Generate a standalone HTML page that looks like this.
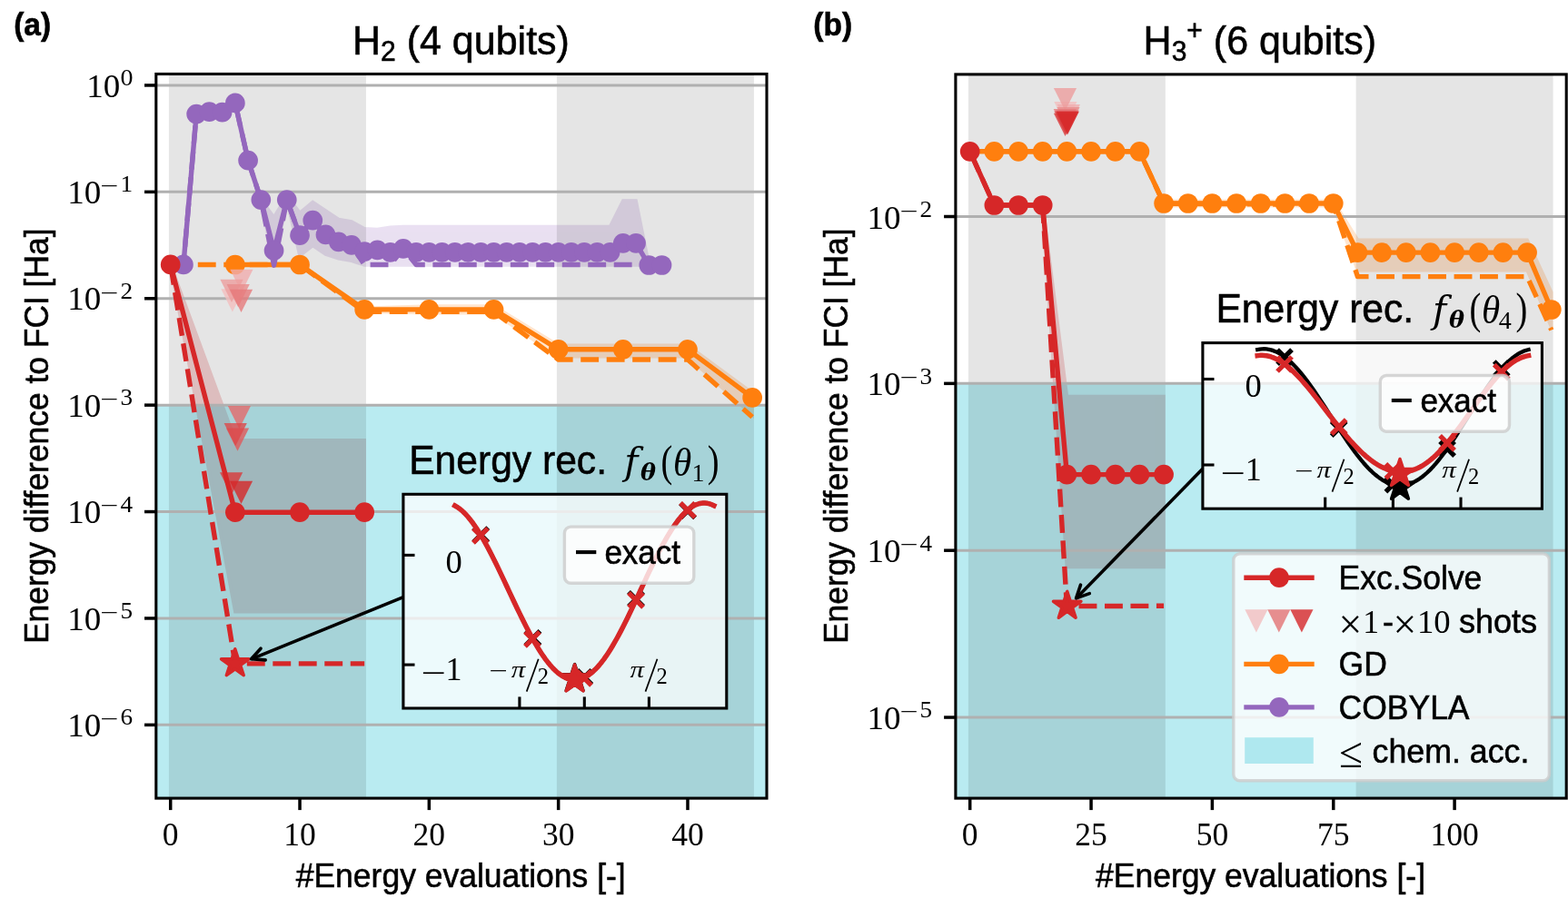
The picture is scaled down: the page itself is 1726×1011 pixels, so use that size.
<!DOCTYPE html>
<html lang="en"><head><meta charset="utf-8"><title>Energy difference to FCI</title>
<style>html,body{margin:0;padding:0;background:#fff;width:1726px;height:1011px}svg{display:block}text{fill:#000;white-space:pre}.s{stroke:#000;stroke-width:0.55px;paint-order:stroke}</style></head><body>
<svg width="1726" height="1011" viewBox="0 0 1726 1011">
<rect x="0" y="0" width="1726" height="1011" fill="#fff"/>
<defs><clipPath id="ca"><rect x="171.8" y="81.5" width="672.2" height="797.6"/></clipPath>
<clipPath id="cb"><rect x="1051.9" y="81.9" width="672.3" height="797.2"/></clipPath></defs>
<g clip-path="url(#ca)">
<polygon points="287.32,219.8 301.56,239.2 315.79,215.7 330.02,234.4 344.25,222.6 358.48,232 372.72,241.5 386.95,243.9 401.18,251.8 415.41,252.6 429.64,250.2 443.88,249.5 458.11,249.5 472.34,249.5 486.57,249.5 500.8,249.5 515.04,249.5 529.27,249.5 543.5,249.5 557.73,249.5 571.96,249.5 586.2,249.5 600.43,249.5 614.66,249.5 628.89,249.5 643.12,249.5 657.36,249.5 671.59,249.5 685.82,221 700.05,221 714.28,291.8 714.28,292.2 700.05,291.9 685.82,291.9 671.59,291.9 657.36,291.9 643.12,291.9 628.89,291.9 614.66,291.9 600.43,291.9 586.2,291.9 571.96,291.9 557.73,291.9 543.5,291.9 529.27,291.9 515.04,291.9 500.8,291.9 486.57,291.9 472.34,291.9 458.11,291.9 443.88,291.9 429.64,291.9 415.41,291.9 401.18,291.9 386.95,287.2 372.72,284.8 358.48,280.1 344.25,270.6 330.02,281.7 315.79,220.3 301.56,291.9 287.32,220.2" fill="#9467bd" stroke="#9467bd" stroke-width="3.6" stroke-linejoin="miter" opacity="0.2"/>
<polygon points="258.86,291.3 330.02,291.3 401.18,339.2 472.34,337.1 543.5,337.1 614.66,380.2 685.82,380.2 756.98,380.2 828.14,432.7 828.14,457.3 756.98,392.8 685.82,392.8 614.66,392.8 543.5,344.8 472.34,344.8 401.18,343.3 330.02,291.7 258.86,291.7" fill="#ff7f0e" stroke="#ff7f0e" stroke-width="3.6" stroke-linejoin="miter" opacity="0.2"/>
<polygon points="187.7,291.4 258.86,484.7 401.18,484.7 401.18,673.6 258.86,673.6" fill="#d62728" stroke="#d62728" stroke-width="3.6" stroke-linejoin="miter" opacity="0.2"/>
<rect x="171.8" y="446.15" width="672.2" height="432.95" fill="#17becf" fill-opacity="0.3"/>
<rect x="185.9" y="81.5" width="217.08" height="797.6" fill="#000" fill-opacity="0.1"/>
<rect x="612.86" y="81.5" width="217.08" height="797.6" fill="#000" fill-opacity="0.1"/>
<line x1="171.8" y1="93.95" x2="844" y2="93.95" stroke="#b0b0b0" stroke-width="3"/>
<line x1="171.8" y1="211.35" x2="844" y2="211.35" stroke="#b0b0b0" stroke-width="3"/>
<line x1="171.8" y1="328.75" x2="844" y2="328.75" stroke="#b0b0b0" stroke-width="3"/>
<line x1="171.8" y1="446.15" x2="844" y2="446.15" stroke="#b0b0b0" stroke-width="3"/>
<line x1="171.8" y1="563.55" x2="844" y2="563.55" stroke="#b0b0b0" stroke-width="3"/>
<line x1="171.8" y1="680.95" x2="844" y2="680.95" stroke="#b0b0b0" stroke-width="3"/>
<line x1="171.8" y1="798.35" x2="844" y2="798.35" stroke="#b0b0b0" stroke-width="3"/>
<polyline points="187.7,291.4 258.86,291.5 330.02,291.5 401.18,343.3 472.34,343.3 543.5,343.3 614.66,396 685.82,396 756.98,396 828.14,459.2" fill="none" stroke="#ff7f0e" stroke-width="5.4" stroke-dasharray="19.9 8.58" stroke-linejoin="round" stroke-dashoffset="-1.6"/>
<polyline points="258.86,291.5 330.02,291.5 401.18,340.9 472.34,340.9 543.5,340.9 614.66,384.8 685.82,384.8 756.98,384.8 828.14,437.9" fill="none" stroke="#ff7f0e" stroke-width="5.4" stroke-linejoin="round" />
<circle cx="258.86" cy="291.5" r="10.85" fill="#ff7f0e"/>
<circle cx="330.02" cy="291.5" r="10.85" fill="#ff7f0e"/>
<circle cx="401.18" cy="340.9" r="10.85" fill="#ff7f0e"/>
<circle cx="472.34" cy="340.9" r="10.85" fill="#ff7f0e"/>
<circle cx="543.5" cy="340.9" r="10.85" fill="#ff7f0e"/>
<circle cx="614.66" cy="384.8" r="10.85" fill="#ff7f0e"/>
<circle cx="685.82" cy="384.8" r="10.85" fill="#ff7f0e"/>
<circle cx="756.98" cy="384.8" r="10.85" fill="#ff7f0e"/>
<circle cx="828.14" cy="437.9" r="10.85" fill="#ff7f0e"/>
<polyline points="187.7,291.4 201.93,291.4 216.16,125.6 230.4,123.2 244.63,123.7 258.86,113.4 273.09,176.7 287.32,220.1 301.56,292.2 315.79,220.1 330.02,259.1 344.25,242.7 358.48,258.4 372.72,266.3 386.95,269.9 401.18,291.5 415.41,291.5 429.64,291.5 443.88,274 458.11,291.5 472.34,291.5 486.57,291.5 500.8,291.5 515.04,291.5 529.27,291.5 543.5,291.5 557.73,291.5 571.96,291.5 586.2,291.5 600.43,291.5 614.66,291.5 628.89,291.5 643.12,291.5 657.36,291.5 671.59,291.5 685.82,291.5 700.05,291.5 714.28,292 728.52,292" fill="none" stroke="#9467bd" stroke-width="5.4" stroke-dasharray="19.9 8.58" stroke-linejoin="round" stroke-dashoffset="-5.5"/>
<polyline points="201.93,291.4 216.16,125.6 230.4,123.2 244.63,123.7 258.86,113.4 273.09,176.7 287.32,220.1 301.56,275.9 315.79,220.1 330.02,259.1 344.25,242.7 358.48,258.4 372.72,266.3 386.95,269.9 401.18,277 415.41,275.4 429.64,277.8 443.88,273.9 458.11,277.8 472.34,277.8 486.57,277.8 500.8,277.8 515.04,277.8 529.27,277.8 543.5,277.8 557.73,277.8 571.96,277.8 586.2,277.8 600.43,277.8 614.66,277.8 628.89,277.8 643.12,277.8 657.36,277.8 671.59,277.8 685.82,267.8 700.05,267.8 714.28,292 728.52,292" fill="none" stroke="#9467bd" stroke-width="5.4" stroke-linejoin="round" />
<circle cx="201.93" cy="291.4" r="10.85" fill="#9467bd"/>
<circle cx="216.16" cy="125.6" r="10.85" fill="#9467bd"/>
<circle cx="230.4" cy="123.2" r="10.85" fill="#9467bd"/>
<circle cx="244.63" cy="123.7" r="10.85" fill="#9467bd"/>
<circle cx="258.86" cy="113.4" r="10.85" fill="#9467bd"/>
<circle cx="273.09" cy="176.7" r="10.85" fill="#9467bd"/>
<circle cx="287.32" cy="220.1" r="10.85" fill="#9467bd"/>
<circle cx="301.56" cy="275.9" r="10.85" fill="#9467bd"/>
<circle cx="315.79" cy="220.1" r="10.85" fill="#9467bd"/>
<circle cx="330.02" cy="259.1" r="10.85" fill="#9467bd"/>
<circle cx="344.25" cy="242.7" r="10.85" fill="#9467bd"/>
<circle cx="358.48" cy="258.4" r="10.85" fill="#9467bd"/>
<circle cx="372.72" cy="266.3" r="10.85" fill="#9467bd"/>
<circle cx="386.95" cy="269.9" r="10.85" fill="#9467bd"/>
<circle cx="401.18" cy="277" r="10.85" fill="#9467bd"/>
<circle cx="415.41" cy="275.4" r="10.85" fill="#9467bd"/>
<circle cx="429.64" cy="277.8" r="10.85" fill="#9467bd"/>
<circle cx="443.88" cy="273.9" r="10.85" fill="#9467bd"/>
<circle cx="458.11" cy="277.8" r="10.85" fill="#9467bd"/>
<circle cx="472.34" cy="277.8" r="10.85" fill="#9467bd"/>
<circle cx="486.57" cy="277.8" r="10.85" fill="#9467bd"/>
<circle cx="500.8" cy="277.8" r="10.85" fill="#9467bd"/>
<circle cx="515.04" cy="277.8" r="10.85" fill="#9467bd"/>
<circle cx="529.27" cy="277.8" r="10.85" fill="#9467bd"/>
<circle cx="543.5" cy="277.8" r="10.85" fill="#9467bd"/>
<circle cx="557.73" cy="277.8" r="10.85" fill="#9467bd"/>
<circle cx="571.96" cy="277.8" r="10.85" fill="#9467bd"/>
<circle cx="586.2" cy="277.8" r="10.85" fill="#9467bd"/>
<circle cx="600.43" cy="277.8" r="10.85" fill="#9467bd"/>
<circle cx="614.66" cy="277.8" r="10.85" fill="#9467bd"/>
<circle cx="628.89" cy="277.8" r="10.85" fill="#9467bd"/>
<circle cx="643.12" cy="277.8" r="10.85" fill="#9467bd"/>
<circle cx="657.36" cy="277.8" r="10.85" fill="#9467bd"/>
<circle cx="671.59" cy="277.8" r="10.85" fill="#9467bd"/>
<circle cx="685.82" cy="267.8" r="10.85" fill="#9467bd"/>
<circle cx="700.05" cy="267.8" r="10.85" fill="#9467bd"/>
<circle cx="714.28" cy="292" r="10.85" fill="#9467bd"/>
<circle cx="728.52" cy="292" r="10.85" fill="#9467bd"/>
<polygon points="243.3,318.2 268.5,318.2 255.9,343.4" fill="#f3bebe" fill-opacity="0.8"/>
<polygon points="253.3,296.7 278.5,296.7 265.9,321.9" fill="#f0adae" fill-opacity="0.8"/>
<polygon points="242.4,307.7 267.6,307.7 255,332.9" fill="#ec9d9d" fill-opacity="0.8"/>
<polygon points="249.6,313.1 274.8,313.1 262.2,338.3" fill="#e98c8c" fill-opacity="0.8"/>
<polygon points="252.9,318.8 278.1,318.8 265.5,344" fill="#e67b7c" fill-opacity="0.8"/>
<polygon points="250.8,447.1 276,447.1 263.4,472.3" fill="#e36a6b" fill-opacity="0.8"/>
<polygon points="248.9,471.5 274.1,471.5 261.5,496.7" fill="#e0595a" fill-opacity="0.8"/>
<polygon points="246.6,466 271.8,466 259.2,491.2" fill="#dc494a" fill-opacity="0.8"/>
<polygon points="242,520.2 267.2,520.2 254.6,545.4" fill="#d93839" fill-opacity="0.8"/>
<polygon points="252.9,529.7 278.1,529.7 265.5,554.9" fill="#d62728" fill-opacity="0.8"/>
<polyline points="187.7,291.4 258.86,730.9 401.18,730.9" fill="none" stroke="#d62728" stroke-width="5.4" stroke-dasharray="19.9 8.58" stroke-linejoin="round" stroke-dashoffset="-2.5"/>
<polyline points="187.7,291.4 258.86,564.2 330.02,564.2 401.18,564.2" fill="none" stroke="#d62728" stroke-width="5.4" stroke-linejoin="round" />
<circle cx="187.7" cy="291.4" r="10.85" fill="#d62728"/>
<circle cx="258.86" cy="564.2" r="10.85" fill="#d62728"/>
<circle cx="330.02" cy="564.2" r="10.85" fill="#d62728"/>
<circle cx="401.18" cy="564.2" r="10.85" fill="#d62728"/>
<polygon points="258.76,714.7 255.17,725.76 243.54,725.76 252.95,732.59 249.36,743.64 258.76,736.81 268.16,743.64 264.57,732.59 273.98,725.76 262.35,725.76" fill="#d62728" stroke="#d62728" stroke-width="3.5" stroke-linejoin="round"/>
</g>
<line x1="159" y1="93.95" x2="171.8" y2="93.95" stroke="#000" stroke-width="3.5"/>
<line x1="159" y1="211.35" x2="171.8" y2="211.35" stroke="#000" stroke-width="3.5"/>
<line x1="159" y1="328.75" x2="171.8" y2="328.75" stroke="#000" stroke-width="3.5"/>
<line x1="159" y1="446.15" x2="171.8" y2="446.15" stroke="#000" stroke-width="3.5"/>
<line x1="159" y1="563.55" x2="171.8" y2="563.55" stroke="#000" stroke-width="3.5"/>
<line x1="159" y1="680.95" x2="171.8" y2="680.95" stroke="#000" stroke-width="3.5"/>
<line x1="159" y1="798.35" x2="171.8" y2="798.35" stroke="#000" stroke-width="3.5"/>
<line x1="187.7" y1="879.1" x2="187.7" y2="892.1" stroke="#000" stroke-width="3.5"/>
<text x="187.7" y="931.4" font-family='"Liberation Serif", serif' font-size="35.5" text-anchor="middle" >0</text>
<line x1="330.02" y1="879.1" x2="330.02" y2="892.1" stroke="#000" stroke-width="3.5"/>
<text x="330.02" y="931.4" font-family='"Liberation Serif", serif' font-size="35.5" text-anchor="middle" >10</text>
<line x1="472.34" y1="879.1" x2="472.34" y2="892.1" stroke="#000" stroke-width="3.5"/>
<text x="472.34" y="931.4" font-family='"Liberation Serif", serif' font-size="35.5" text-anchor="middle" >20</text>
<line x1="614.66" y1="879.1" x2="614.66" y2="892.1" stroke="#000" stroke-width="3.5"/>
<text x="614.66" y="931.4" font-family='"Liberation Serif", serif' font-size="35.5" text-anchor="middle" >30</text>
<line x1="756.98" y1="879.1" x2="756.98" y2="892.1" stroke="#000" stroke-width="3.5"/>
<text x="756.98" y="931.4" font-family='"Liberation Serif", serif' font-size="35.5" text-anchor="middle" >40</text>
<rect x="171.8" y="81.5" width="672.2" height="797.6" fill="none" stroke="#000" stroke-width="3.1"/>
<text x="132.4" y="93.95" font-family='"Liberation Serif", serif' font-size="24.5" textLength="14" lengthAdjust="spacingAndGlyphs">0</text>
<text x="132.3" y="106.65" font-family='"Liberation Serif", serif' font-size="35.5" text-anchor="end" textLength="37" lengthAdjust="spacingAndGlyphs">10</text>
<text x="110.6" y="213.15" font-family='"Liberation Serif", serif' font-size="24.5" textLength="20" lengthAdjust="spacingAndGlyphs">−</text>
<text x="146" y="211.35" font-family='"Liberation Serif", serif' font-size="24.5" text-anchor="end" textLength="13.6" lengthAdjust="spacingAndGlyphs">1</text>
<text x="111.3" y="224.05" font-family='"Liberation Serif", serif' font-size="35.5" text-anchor="end" textLength="37" lengthAdjust="spacingAndGlyphs">10</text>
<text x="110.6" y="330.55" font-family='"Liberation Serif", serif' font-size="24.5" textLength="20" lengthAdjust="spacingAndGlyphs">−</text>
<text x="146" y="328.75" font-family='"Liberation Serif", serif' font-size="24.5" text-anchor="end" textLength="13.6" lengthAdjust="spacingAndGlyphs">2</text>
<text x="111.3" y="341.45" font-family='"Liberation Serif", serif' font-size="35.5" text-anchor="end" textLength="37" lengthAdjust="spacingAndGlyphs">10</text>
<text x="110.6" y="447.95" font-family='"Liberation Serif", serif' font-size="24.5" textLength="20" lengthAdjust="spacingAndGlyphs">−</text>
<text x="146" y="446.15" font-family='"Liberation Serif", serif' font-size="24.5" text-anchor="end" textLength="13.6" lengthAdjust="spacingAndGlyphs">3</text>
<text x="111.3" y="458.85" font-family='"Liberation Serif", serif' font-size="35.5" text-anchor="end" textLength="37" lengthAdjust="spacingAndGlyphs">10</text>
<text x="110.6" y="565.35" font-family='"Liberation Serif", serif' font-size="24.5" textLength="20" lengthAdjust="spacingAndGlyphs">−</text>
<text x="146" y="563.55" font-family='"Liberation Serif", serif' font-size="24.5" text-anchor="end" textLength="13.6" lengthAdjust="spacingAndGlyphs">4</text>
<text x="111.3" y="576.25" font-family='"Liberation Serif", serif' font-size="35.5" text-anchor="end" textLength="37" lengthAdjust="spacingAndGlyphs">10</text>
<text x="110.6" y="682.75" font-family='"Liberation Serif", serif' font-size="24.5" textLength="20" lengthAdjust="spacingAndGlyphs">−</text>
<text x="146" y="680.95" font-family='"Liberation Serif", serif' font-size="24.5" text-anchor="end" textLength="13.6" lengthAdjust="spacingAndGlyphs">5</text>
<text x="111.3" y="693.65" font-family='"Liberation Serif", serif' font-size="35.5" text-anchor="end" textLength="37" lengthAdjust="spacingAndGlyphs">10</text>
<text x="110.6" y="800.15" font-family='"Liberation Serif", serif' font-size="24.5" textLength="20" lengthAdjust="spacingAndGlyphs">−</text>
<text x="146" y="798.35" font-family='"Liberation Serif", serif' font-size="24.5" text-anchor="end" textLength="13.6" lengthAdjust="spacingAndGlyphs">6</text>
<text x="111.3" y="811.05" font-family='"Liberation Serif", serif' font-size="35.5" text-anchor="end" textLength="37" lengthAdjust="spacingAndGlyphs">10</text>
<text class="s" transform="translate(507.2 977.3) scale(1 1.045)" font-family='"Liberation Sans", sans-serif' font-size="35.5" text-anchor="middle" >#Energy evaluations [-]</text>
<text class="s" transform="translate(52.7 480.3) rotate(-90) scale(1 1.045)" font-family='"Liberation Sans", sans-serif' font-size="35.4" text-anchor="middle">Energy difference to FCI [Ha]</text>
<text class="s" transform="translate(388 59.8) scale(1 1.05)" font-family='"Liberation Sans", sans-serif' font-size="43">H<tspan font-size="30" dy="7">2</tspan><tspan dy="-7"> (4 qubits)</tspan></text>
<text class="s" transform="translate(15.2 39) scale(1 1.04)" font-family='"Liberation Sans", sans-serif' font-size="33.5" font-weight="bold">(a)</text>
<path d="M443.9 657.7L276.6 725.8" stroke="#000" stroke-width="3.6" fill="none"/>
<path d="M287.01 714.18L276.6 725.8L292.16 726.85" stroke="#000" stroke-width="3.6" fill="none" stroke-linecap="round" stroke-linejoin="round"/>
<rect x="443.9" y="544.3" width="355.9" height="235.7" fill="#fff" fill-opacity="0.74"/>
<polyline points="500.7,556.89 503.08,558.27 505.45,559.92 507.83,561.83 510.21,563.98 512.58,566.38 514.96,569.02 517.34,571.89 519.71,574.98 522.09,578.28 524.47,581.78 526.84,585.47 529.22,589.34 531.6,593.39 533.97,597.59 536.35,601.93 538.73,606.41 541.1,611.02 543.48,615.72 545.86,620.53 548.23,625.41 550.61,630.36 552.99,635.37 555.36,640.41 557.74,645.48 560.12,650.56 562.49,655.64 564.87,660.71 567.25,665.74 569.62,670.74 572,675.67 574.38,680.54 576.75,685.32 579.13,690.01 581.51,694.6 583.88,699.06 586.26,703.39 588.64,707.58 591.01,711.62 593.39,715.49 595.77,719.2 598.14,722.71 600.52,726.04 602.9,729.17 605.27,732.08 607.65,734.79 610.03,737.26 612.4,739.52 614.78,741.53 617.16,743.31 619.53,744.84 621.91,746.12 624.29,747.15 626.66,747.93 629.04,748.45 631.42,748.72 633.79,748.72 636.17,748.47 638.55,747.95 640.92,747.18 643.3,746.16 645.68,744.88 648.05,743.35 650.43,741.57 652.81,739.56 655.18,737.3 657.56,734.82 659.94,732.11 662.31,729.18 664.69,726.04 667.07,722.7 669.44,719.16 671.82,715.43 674.2,711.53 676.57,707.47 678.95,703.25 681.33,698.88 683.7,694.39 686.08,689.77 688.46,685.04 690.83,680.22 693.21,675.31 695.59,670.34 697.96,665.3 700.34,660.23 702.72,655.13 705.09,650.01 707.47,644.89 709.85,639.79 712.22,634.71 714.6,629.68 716.98,624.71 719.35,619.8 721.73,614.98 724.11,610.26 726.48,605.65 728.86,601.16 731.24,596.82 733.61,592.62 735.99,588.59 738.37,584.73 740.74,581.06 743.12,577.58 745.5,574.31 747.87,571.26 750.25,568.43 752.63,565.83 755,563.48 757.38,561.37 759.76,559.52 762.13,557.93 764.51,556.6 766.89,555.54 769.26,554.75 771.64,554.23 774.02,553.99 776.39,554.02 778.77,554.33 781.15,554.91 783.52,555.76 785.9,556.89" fill="none" stroke="#000" stroke-width="4.3" stroke-linejoin="round" stroke-linecap="square"/>
<path d="M521.22 581.14L537.22 597.14M521.22 597.14L537.22 581.14" stroke="#000" stroke-width="5.3" fill="none"/>
<path d="M578.46 694.99L594.46 710.99M578.46 710.99L594.46 694.99" stroke="#000" stroke-width="5.3" fill="none"/>
<path d="M635.3 737.96L651.3 753.96M635.3 753.96L651.3 737.96" stroke="#000" stroke-width="5.3" fill="none"/>
<path d="M692.04 651.93L708.04 667.93M692.04 667.93L708.04 651.93" stroke="#000" stroke-width="5.3" fill="none"/>
<path d="M749.08 554.37L765.08 570.37M749.08 570.37L765.08 554.37" stroke="#000" stroke-width="5.3" fill="none"/>
<polygon points="632.6,731.6 629.01,742.66 617.38,742.66 626.79,749.49 623.2,760.54 632.6,753.71 642,760.54 638.41,749.49 647.82,742.66 636.19,742.66" fill="#000" stroke="#000" stroke-width="3.5" stroke-linejoin="round"/>
<polyline points="500.7,556.89 503.08,558.27 505.45,559.92 507.83,561.83 510.21,563.98 512.58,566.38 514.96,569.02 517.34,571.89 519.71,574.98 522.09,578.28 524.47,581.78 526.84,585.47 529.22,589.34 531.6,593.39 533.97,597.59 536.35,601.93 538.73,606.41 541.1,611.02 543.48,615.72 545.86,620.53 548.23,625.41 550.61,630.36 552.99,635.37 555.36,640.41 557.74,645.48 560.12,650.56 562.49,655.64 564.87,660.71 567.25,665.74 569.62,670.74 572,675.67 574.38,680.54 576.75,685.32 579.13,690.01 581.51,694.6 583.88,699.06 586.26,703.39 588.64,707.58 591.01,711.62 593.39,715.49 595.77,719.2 598.14,722.71 600.52,726.04 602.9,729.17 605.27,732.08 607.65,734.79 610.03,737.26 612.4,739.52 614.78,741.53 617.16,743.31 619.53,744.84 621.91,746.12 624.29,747.15 626.66,747.93 629.04,748.45 631.42,748.72 633.79,748.72 636.17,748.47 638.55,747.95 640.92,747.18 643.3,746.16 645.68,744.88 648.05,743.35 650.43,741.57 652.81,739.56 655.18,737.3 657.56,734.82 659.94,732.11 662.31,729.18 664.69,726.04 667.07,722.7 669.44,719.16 671.82,715.43 674.2,711.53 676.57,707.47 678.95,703.25 681.33,698.88 683.7,694.39 686.08,689.77 688.46,685.04 690.83,680.22 693.21,675.31 695.59,670.34 697.96,665.3 700.34,660.23 702.72,655.13 705.09,650.01 707.47,644.89 709.85,639.79 712.22,634.71 714.6,629.68 716.98,624.71 719.35,619.8 721.73,614.98 724.11,610.26 726.48,605.65 728.86,601.16 731.24,596.82 733.61,592.62 735.99,588.59 738.37,584.73 740.74,581.06 743.12,577.58 745.5,574.31 747.87,571.26 750.25,568.43 752.63,565.83 755,563.48 757.38,561.37 759.76,559.52 762.13,557.93 764.51,556.6 766.89,555.54 769.26,554.75 771.64,554.23 774.02,553.99 776.39,554.02 778.77,554.33 781.15,554.91 783.52,555.76 785.9,556.89" fill="none" stroke="#d62728" stroke-width="5.5" stroke-linejoin="round" stroke-linecap="square"/>
<path d="M520.92 581.94L536.92 597.94M520.92 597.94L536.92 581.94" stroke="#d62728" stroke-width="5.3" fill="none"/>
<path d="M577.96 695.99L593.96 711.99M577.96 711.99L593.96 695.99" stroke="#d62728" stroke-width="5.3" fill="none"/>
<path d="M635 738.76L651 754.76M635 754.76L651 738.76" stroke="#d62728" stroke-width="5.3" fill="none"/>
<path d="M692.04 652.83L708.04 668.83M692.04 668.83L708.04 652.83" stroke="#d62728" stroke-width="5.3" fill="none"/>
<path d="M749.08 553.97L765.08 569.97M749.08 569.97L765.08 553.97" stroke="#d62728" stroke-width="5.3" fill="none"/>
<polygon points="632.6,732 629.01,743.06 617.38,743.06 626.79,749.89 623.2,760.94 632.6,754.11 642,760.94 638.41,749.89 647.82,743.06 636.19,743.06" fill="#d62728" stroke="#d62728" stroke-width="3.5" stroke-linejoin="round"/>
<line x1="443.9" y1="611.4" x2="456.5" y2="611.4" stroke="#000" stroke-width="3.1"/>
<line x1="443.9" y1="732.1" x2="456.5" y2="732.1" stroke="#000" stroke-width="3.1"/>
<line x1="571.9" y1="780" x2="571.9" y2="767.4" stroke="#000" stroke-width="3.1"/>
<line x1="643.3" y1="780" x2="643.3" y2="767.4" stroke="#000" stroke-width="3.1"/>
<line x1="714.4" y1="780" x2="714.4" y2="767.4" stroke="#000" stroke-width="3.1"/>
<rect x="443.9" y="544.3" width="355.9" height="235.7" fill="none" stroke="#000" stroke-width="3.1"/>
<text x="499.6" y="631" font-family='"Liberation Serif", serif' font-size="36.5" text-anchor="middle" >0</text>
<text x="463.2" y="752.8" font-family='"Liberation Serif", serif' font-size="35.5" textLength="27.5" lengthAdjust="spacingAndGlyphs">−</text>
<text x="508.6" y="749" font-family='"Liberation Serif", serif' font-size="36" text-anchor="end" >1</text>
<text x="538.3" y="747.2" font-family='"Liberation Serif", serif' font-size="25" textLength="20.5" lengthAdjust="spacingAndGlyphs">−</text>
<text x="562.8" y="745.6" font-family='"Liberation Serif", serif' font-size="26" font-style="italic" textLength="15.5" lengthAdjust="spacingAndGlyphs">π</text>
<line x1="579.7" y1="761.6" x2="592.7" y2="725.8" stroke="#000" stroke-width="1.7"/>
<text x="591.7" y="753.2" font-family='"Liberation Serif", serif' font-size="24.5">2</text>
<text x="693.6" y="745.6" font-family='"Liberation Serif", serif' font-size="26" font-style="italic" textLength="15.5" lengthAdjust="spacingAndGlyphs">π</text>
<line x1="710.5" y1="761.6" x2="723.5" y2="725.8" stroke="#000" stroke-width="1.7"/>
<text x="722.5" y="753.2" font-family='"Liberation Serif", serif' font-size="24.5">2</text>
<rect x="621.4" y="580.1" width="142.4" height="62.2" rx="7" ry="7" fill="#fff" fill-opacity="0.8" stroke="#ccc" stroke-opacity="0.8" stroke-width="3.4"/>
<line x1="634" y1="608.1" x2="656.3" y2="608.1" stroke="#000" stroke-width="4.1"/>
<text class="s" transform="translate(665.4 620.9) scale(1 1.04)" font-family='"Liberation Sans", sans-serif' font-size="35" text-anchor="start" >exact</text>
<text class="s" transform="translate(450.2 522.4) scale(1 1.04)" font-family='"Liberation Sans", sans-serif' font-size="42.6" text-anchor="start" >Energy rec.</text>
<text x="687.3" y="522.2" font-family='"DejaVu Serif", "Liberation Serif", serif' font-size="41" font-style="italic">f</text>
<text x="705.1" y="528.7" font-family='"DejaVu Serif", "Liberation Serif", serif' font-size="25.5" font-style="italic" font-weight="bold">θ</text>
<text x="727.6" y="523.5" font-family='"Liberation Serif", serif' font-size="47.5" textLength="12.8" lengthAdjust="spacingAndGlyphs">(</text>
<text x="741.1" y="523.6" font-family='"Liberation Serif", serif' font-size="44" font-style="italic" textLength="20.2" lengthAdjust="spacingAndGlyphs">θ</text>
<text x="761.4" y="529.5" font-family='"Liberation Serif", serif' font-size="28">1</text>
<text x="778.7" y="523.5" font-family='"Liberation Serif", serif' font-size="47.5" textLength="12.8" lengthAdjust="spacingAndGlyphs">)</text>
<g clip-path="url(#cb)">
<polygon points="1254.39,166.8 1281.06,221.4 1467.75,221.4 1494.42,264.2 1681.11,264.2 1707.78,322 1707.78,360.5 1681.11,297.6 1494.42,297.6 1467.75,226.8 1281.06,226.8" fill="#ff7f0e" stroke="#ff7f0e" stroke-width="3.6" stroke-linejoin="miter" opacity="0.2"/>
<polygon points="1147.71,226 1174.38,436.6 1281.06,436.6 1281.06,624.4 1174.38,624.4" fill="#d62728" stroke="#d62728" stroke-width="3.6" stroke-linejoin="miter" opacity="0.2"/>
<rect x="1051.9" y="422.35" width="672.3" height="456.75" fill="#17becf" fill-opacity="0.3"/>
<rect x="1065.9" y="81.9" width="216.96" height="797.2" fill="#000" fill-opacity="0.1"/>
<rect x="1492.62" y="81.9" width="216.96" height="797.2" fill="#000" fill-opacity="0.1"/>
<line x1="1051.9" y1="238.5" x2="1724.2" y2="238.5" stroke="#b0b0b0" stroke-width="3"/>
<line x1="1051.9" y1="422.35" x2="1724.2" y2="422.35" stroke="#b0b0b0" stroke-width="3"/>
<line x1="1051.9" y1="606.2" x2="1724.2" y2="606.2" stroke="#b0b0b0" stroke-width="3"/>
<line x1="1051.9" y1="790.05" x2="1724.2" y2="790.05" stroke="#b0b0b0" stroke-width="3"/>
<polyline points="1067.7,166.8 1254.39,166.8 1281.06,224.3 1467.75,225.3 1494.42,304.6 1681.11,304.6 1707.78,363.5" fill="none" stroke="#ff7f0e" stroke-width="5.4" stroke-dasharray="19.9 8.58" stroke-linejoin="round" />
<polyline points="1094.37,166.8 1121.04,166.8 1147.71,166.8 1174.38,166.8 1201.05,166.8 1227.72,166.8 1254.39,166.8 1281.06,224 1307.73,224 1334.4,224 1361.07,224 1387.74,224 1414.41,224 1441.08,224 1467.75,224 1494.42,278.1 1521.09,278.1 1547.76,278.1 1574.43,278.1 1601.1,278.1 1627.77,278.1 1654.44,278.1 1681.11,278.1 1707.78,341" fill="none" stroke="#ff7f0e" stroke-width="5.4" stroke-linejoin="round" />
<circle cx="1094.37" cy="166.8" r="10.85" fill="#ff7f0e"/>
<circle cx="1121.04" cy="166.8" r="10.85" fill="#ff7f0e"/>
<circle cx="1147.71" cy="166.8" r="10.85" fill="#ff7f0e"/>
<circle cx="1174.38" cy="166.8" r="10.85" fill="#ff7f0e"/>
<circle cx="1201.05" cy="166.8" r="10.85" fill="#ff7f0e"/>
<circle cx="1227.72" cy="166.8" r="10.85" fill="#ff7f0e"/>
<circle cx="1254.39" cy="166.8" r="10.85" fill="#ff7f0e"/>
<circle cx="1281.06" cy="224" r="10.85" fill="#ff7f0e"/>
<circle cx="1307.73" cy="224" r="10.85" fill="#ff7f0e"/>
<circle cx="1334.4" cy="224" r="10.85" fill="#ff7f0e"/>
<circle cx="1361.07" cy="224" r="10.85" fill="#ff7f0e"/>
<circle cx="1387.74" cy="224" r="10.85" fill="#ff7f0e"/>
<circle cx="1414.41" cy="224" r="10.85" fill="#ff7f0e"/>
<circle cx="1441.08" cy="224" r="10.85" fill="#ff7f0e"/>
<circle cx="1467.75" cy="224" r="10.85" fill="#ff7f0e"/>
<circle cx="1494.42" cy="278.1" r="10.85" fill="#ff7f0e"/>
<circle cx="1521.09" cy="278.1" r="10.85" fill="#ff7f0e"/>
<circle cx="1547.76" cy="278.1" r="10.85" fill="#ff7f0e"/>
<circle cx="1574.43" cy="278.1" r="10.85" fill="#ff7f0e"/>
<circle cx="1601.1" cy="278.1" r="10.85" fill="#ff7f0e"/>
<circle cx="1627.77" cy="278.1" r="10.85" fill="#ff7f0e"/>
<circle cx="1654.44" cy="278.1" r="10.85" fill="#ff7f0e"/>
<circle cx="1681.11" cy="278.1" r="10.85" fill="#ff7f0e"/>
<circle cx="1707.78" cy="341" r="10.85" fill="#ff7f0e"/>
<polygon points="1160.3,111.9 1185.5,111.9 1172.9,137.1" fill="#f3bebe" fill-opacity="0.8"/>
<polygon points="1163.8,115 1189,115 1176.4,140.2" fill="#f0adae" fill-opacity="0.8"/>
<polygon points="1159.9,96.9 1185.1,96.9 1172.5,122.1" fill="#ec9d9d" fill-opacity="0.8"/>
<polygon points="1163.4,118 1188.6,118 1176,143.2" fill="#e98c8c" fill-opacity="0.8"/>
<polygon points="1159.7,119.9 1184.9,119.9 1172.3,145.1" fill="#e67b7c" fill-opacity="0.8"/>
<polygon points="1162.4,121.5 1187.6,121.5 1175,146.7" fill="#e36a6b" fill-opacity="0.8"/>
<polygon points="1160.4,122.6 1185.6,122.6 1173,147.8" fill="#e0595a" fill-opacity="0.8"/>
<polygon points="1161.9,123.2 1187.1,123.2 1174.5,148.4" fill="#dc494a" fill-opacity="0.8"/>
<polygon points="1159.9,124.8 1185.1,124.8 1172.5,150" fill="#d93839" fill-opacity="0.8"/>
<polygon points="1162.7,122.7 1187.9,122.7 1175.3,147.9" fill="#d62728" fill-opacity="0.8"/>
<polyline points="1067.7,166.8 1094.37,226 1147.71,226 1174.38,667.6 1281.06,667.3" fill="none" stroke="#d62728" stroke-width="5.4" stroke-dasharray="19.9 8.58" stroke-linejoin="round" stroke-dashoffset="-4.2"/>
<polyline points="1067.7,166.8 1094.37,226 1121.04,226 1147.71,226 1174.38,522.6 1201.05,522.6 1227.72,522.6 1254.39,522.6 1281.06,522.6" fill="none" stroke="#d62728" stroke-width="5.4" stroke-linejoin="round" />
<circle cx="1067.7" cy="166.8" r="10.85" fill="#d62728"/>
<circle cx="1094.37" cy="226" r="10.85" fill="#d62728"/>
<circle cx="1121.04" cy="226" r="10.85" fill="#d62728"/>
<circle cx="1147.71" cy="226" r="10.85" fill="#d62728"/>
<circle cx="1174.38" cy="522.6" r="10.85" fill="#d62728"/>
<circle cx="1201.05" cy="522.6" r="10.85" fill="#d62728"/>
<circle cx="1227.72" cy="522.6" r="10.85" fill="#d62728"/>
<circle cx="1254.39" cy="522.6" r="10.85" fill="#d62728"/>
<circle cx="1281.06" cy="522.6" r="10.85" fill="#d62728"/>
<polygon points="1174.7,651.3 1171.11,662.36 1159.48,662.36 1168.89,669.19 1165.3,680.24 1174.7,673.41 1184.1,680.24 1180.51,669.19 1189.92,662.36 1178.29,662.36" fill="#d62728" stroke="#d62728" stroke-width="3.5" stroke-linejoin="round"/>
</g>
<line x1="1039.1" y1="238.5" x2="1051.9" y2="238.5" stroke="#000" stroke-width="3.5"/>
<line x1="1039.1" y1="422.35" x2="1051.9" y2="422.35" stroke="#000" stroke-width="3.5"/>
<line x1="1039.1" y1="606.2" x2="1051.9" y2="606.2" stroke="#000" stroke-width="3.5"/>
<line x1="1039.1" y1="790.05" x2="1051.9" y2="790.05" stroke="#000" stroke-width="3.5"/>
<line x1="1067.7" y1="879.1" x2="1067.7" y2="892.1" stroke="#000" stroke-width="3.5"/>
<text x="1067.7" y="931.4" font-family='"Liberation Serif", serif' font-size="35.5" text-anchor="middle" >0</text>
<line x1="1201.05" y1="879.1" x2="1201.05" y2="892.1" stroke="#000" stroke-width="3.5"/>
<text x="1201.05" y="931.4" font-family='"Liberation Serif", serif' font-size="35.5" text-anchor="middle" >25</text>
<line x1="1334.4" y1="879.1" x2="1334.4" y2="892.1" stroke="#000" stroke-width="3.5"/>
<text x="1334.4" y="931.4" font-family='"Liberation Serif", serif' font-size="35.5" text-anchor="middle" >50</text>
<line x1="1467.75" y1="879.1" x2="1467.75" y2="892.1" stroke="#000" stroke-width="3.5"/>
<text x="1467.75" y="931.4" font-family='"Liberation Serif", serif' font-size="35.5" text-anchor="middle" >75</text>
<line x1="1601.1" y1="879.1" x2="1601.1" y2="892.1" stroke="#000" stroke-width="3.5"/>
<text x="1601.1" y="931.4" font-family='"Liberation Serif", serif' font-size="35.5" text-anchor="middle" >100</text>
<rect x="1051.9" y="81.9" width="672.3" height="797.2" fill="none" stroke="#000" stroke-width="3.1"/>
<text x="990.7" y="240.6" font-family='"Liberation Serif", serif' font-size="24.5" textLength="20" lengthAdjust="spacingAndGlyphs">−</text>
<text x="1026.1" y="238.8" font-family='"Liberation Serif", serif' font-size="24.5" text-anchor="end" textLength="13.6" lengthAdjust="spacingAndGlyphs">2</text>
<text x="991.4" y="251.5" font-family='"Liberation Serif", serif' font-size="35.5" text-anchor="end" textLength="37" lengthAdjust="spacingAndGlyphs">10</text>
<text x="990.7" y="424.45" font-family='"Liberation Serif", serif' font-size="24.5" textLength="20" lengthAdjust="spacingAndGlyphs">−</text>
<text x="1026.1" y="422.65" font-family='"Liberation Serif", serif' font-size="24.5" text-anchor="end" textLength="13.6" lengthAdjust="spacingAndGlyphs">3</text>
<text x="991.4" y="435.35" font-family='"Liberation Serif", serif' font-size="35.5" text-anchor="end" textLength="37" lengthAdjust="spacingAndGlyphs">10</text>
<text x="990.7" y="608.3" font-family='"Liberation Serif", serif' font-size="24.5" textLength="20" lengthAdjust="spacingAndGlyphs">−</text>
<text x="1026.1" y="606.5" font-family='"Liberation Serif", serif' font-size="24.5" text-anchor="end" textLength="13.6" lengthAdjust="spacingAndGlyphs">4</text>
<text x="991.4" y="619.2" font-family='"Liberation Serif", serif' font-size="35.5" text-anchor="end" textLength="37" lengthAdjust="spacingAndGlyphs">10</text>
<text x="990.7" y="792.15" font-family='"Liberation Serif", serif' font-size="24.5" textLength="20" lengthAdjust="spacingAndGlyphs">−</text>
<text x="1026.1" y="790.35" font-family='"Liberation Serif", serif' font-size="24.5" text-anchor="end" textLength="13.6" lengthAdjust="spacingAndGlyphs">5</text>
<text x="991.4" y="803.05" font-family='"Liberation Serif", serif' font-size="35.5" text-anchor="end" textLength="37" lengthAdjust="spacingAndGlyphs">10</text>
<text class="s" transform="translate(1387.5 977.3) scale(1 1.045)" font-family='"Liberation Sans", sans-serif' font-size="35.5" text-anchor="middle" >#Energy evaluations [-]</text>
<text class="s" transform="translate(932.8 480.3) rotate(-90) scale(1 1.045)" font-family='"Liberation Sans", sans-serif' font-size="35.4" text-anchor="middle">Energy difference to FCI [Ha]</text>
<text class="s" transform="translate(1258.6 59.8) scale(1 1.05)" font-family='"Liberation Sans", sans-serif' font-size="43">H<tspan font-size="30" dy="7">3</tspan><tspan font-size="30" dy="-22">+</tspan><tspan dy="15"> (6 qubits)</tspan></text>
<text class="s" transform="translate(895.3 39) scale(1 1.04)" font-family='"Liberation Sans", sans-serif' font-size="33.5" font-weight="bold">(b)</text>
<path d="M1323.9 516.3L1184.6 658.9" stroke="#000" stroke-width="3.6" fill="none"/>
<path d="M1189.51 644.09L1184.6 658.9L1199.29 653.65" stroke="#000" stroke-width="3.6" fill="none" stroke-linecap="round" stroke-linejoin="round"/>
<rect x="1323.9" y="377.6" width="373.5" height="182.6" fill="#fff" fill-opacity="0.74"/>
<polyline points="1384.2,385.02 1386.69,384.56 1389.17,384.3 1391.66,384.25 1394.15,384.42 1396.63,384.79 1399.12,385.37 1401.61,386.16 1404.09,387.15 1406.58,388.34 1409.07,389.73 1411.55,391.3 1414.04,393.07 1416.53,395.02 1419.01,397.14 1421.5,399.43 1423.99,401.89 1426.47,404.5 1428.96,407.26 1431.45,410.16 1433.93,413.19 1436.42,416.35 1438.91,419.62 1441.39,423 1443.88,426.47 1446.37,430.03 1448.85,433.67 1451.34,437.38 1453.83,441.14 1456.31,444.95 1458.8,448.79 1461.29,452.67 1463.77,456.55 1466.26,460.45 1468.75,464.34 1471.23,468.21 1473.72,472.06 1476.21,475.87 1478.69,479.64 1481.18,483.35 1483.67,487 1486.15,490.57 1488.64,494.06 1491.13,497.46 1493.61,500.76 1496.1,503.94 1498.59,507.01 1501.07,509.95 1503.56,512.75 1506.05,515.42 1508.53,517.93 1511.02,520.29 1513.51,522.49 1515.99,524.52 1518.48,526.38 1520.97,528.06 1523.45,529.56 1525.94,530.87 1528.43,531.99 1530.91,532.92 1533.4,533.65 1535.89,534.18 1538.37,534.51 1540.86,534.64 1543.35,534.57 1545.83,534.29 1548.32,533.81 1550.81,533.14 1553.29,532.26 1555.78,531.18 1558.27,529.91 1560.75,528.45 1563.24,526.8 1565.73,524.96 1568.21,522.94 1570.7,520.75 1573.19,518.39 1575.67,515.87 1578.16,513.18 1580.65,510.35 1583.13,507.38 1585.62,504.27 1588.11,501.04 1590.59,497.69 1593.08,494.23 1595.57,490.67 1598.05,487.02 1600.54,483.29 1603.03,479.5 1605.51,475.64 1608,471.74 1610.49,467.8 1612.97,463.84 1615.46,459.86 1617.95,455.88 1620.43,451.91 1622.92,447.96 1625.41,444.03 1627.89,440.15 1630.38,436.33 1632.87,432.56 1635.35,428.87 1637.84,425.27 1640.33,421.76 1642.81,418.36 1645.3,415.08 1647.79,411.91 1650.27,408.89 1652.76,406 1655.25,403.27 1657.73,400.7 1660.22,398.29 1662.71,396.05 1665.19,393.99 1667.68,392.12 1670.17,390.44 1672.65,388.95 1675.14,387.66 1677.63,386.58 1680.11,385.7 1682.6,385.02" fill="none" stroke="#000" stroke-width="4.3" stroke-linejoin="round" stroke-linecap="square"/>
<path d="M1406.04 385.07L1422.04 401.07M1406.04 401.07L1422.04 385.07" stroke="#000" stroke-width="5.3" fill="none"/>
<path d="M1465.72 464.06L1481.72 480.06M1465.72 480.06L1481.72 464.06" stroke="#000" stroke-width="5.3" fill="none"/>
<path d="M1525.4 525.65L1541.4 541.65M1525.4 541.65L1541.4 525.65" stroke="#000" stroke-width="5.3" fill="none"/>
<path d="M1585.08 486.23L1601.08 502.23M1585.08 502.23L1601.08 486.23" stroke="#000" stroke-width="5.3" fill="none"/>
<path d="M1644.76 398L1660.76 414M1644.76 414L1660.76 398" stroke="#000" stroke-width="5.3" fill="none"/>
<polygon points="1541,520.3 1537.41,531.36 1525.78,531.36 1535.19,538.19 1531.6,549.24 1541,542.41 1550.4,549.24 1546.81,538.19 1556.22,531.36 1544.59,531.36" fill="#000" stroke="#000" stroke-width="3.5" stroke-linejoin="round"/>
<polyline points="1384.2,391.64 1386.69,391.37 1389.17,391.3 1391.66,391.42 1394.15,391.75 1396.63,392.26 1399.12,392.97 1401.61,393.87 1404.09,394.95 1406.58,396.21 1409.07,397.64 1411.55,399.24 1414.04,401 1416.53,402.91 1419.01,404.97 1421.5,407.17 1423.99,409.5 1426.47,411.96 1428.96,414.52 1431.45,417.2 1433.93,419.97 1436.42,422.83 1438.91,425.76 1441.39,428.77 1443.88,431.83 1446.37,434.95 1448.85,438.11 1451.34,441.3 1453.83,444.52 1456.31,447.76 1458.8,451 1461.29,454.24 1463.77,457.47 1466.26,460.69 1468.75,463.88 1471.23,467.04 1473.72,470.16 1476.21,473.24 1478.69,476.26 1481.18,479.23 1483.67,482.13 1486.15,484.96 1488.64,487.71 1491.13,490.39 1493.61,492.97 1496.1,495.46 1498.59,497.86 1501.07,500.15 1503.56,502.34 1506.05,504.42 1508.53,506.38 1511.02,508.22 1513.51,509.94 1515.99,511.54 1518.48,513 1520.97,514.33 1523.45,515.53 1525.94,516.58 1528.43,517.5 1530.91,518.27 1533.4,518.89 1535.89,519.36 1538.37,519.68 1540.86,519.85 1543.35,519.86 1545.83,519.71 1548.32,519.41 1550.81,518.94 1553.29,518.32 1555.78,517.54 1558.27,516.6 1560.75,515.5 1563.24,514.24 1565.73,512.83 1568.21,511.26 1570.7,509.54 1573.19,507.67 1575.67,505.65 1578.16,503.49 1580.65,501.2 1583.13,498.77 1585.62,496.21 1588.11,493.53 1590.59,490.73 1593.08,487.82 1595.57,484.81 1598.05,481.71 1600.54,478.52 1603.03,475.25 1605.51,471.92 1608,468.52 1610.49,465.08 1612.97,461.6 1615.46,458.09 1617.95,454.57 1620.43,451.04 1622.92,447.51 1625.41,444 1627.89,440.52 1630.38,437.08 1632.87,433.68 1635.35,430.35 1637.84,427.1 1640.33,423.93 1642.81,420.85 1645.3,417.88 1647.79,415.02 1650.27,412.29 1652.76,409.7 1655.25,407.24 1657.73,404.94 1660.22,402.8 1662.71,400.82 1665.19,399.02 1667.68,397.4 1670.17,395.96 1672.65,394.71 1675.14,393.65 1677.63,392.78 1680.11,392.11 1682.6,391.64" fill="none" stroke="#d62728" stroke-width="5.5" stroke-linejoin="round" stroke-linecap="square"/>
<path d="M1406.04 393L1422.04 409M1406.04 409L1422.04 393" stroke="#d62728" stroke-width="5.3" fill="none"/>
<path d="M1465.72 462.16L1481.72 478.16M1465.72 478.16L1481.72 462.16" stroke="#d62728" stroke-width="5.3" fill="none"/>
<path d="M1525.4 510.89L1541.4 526.89M1525.4 526.89L1541.4 510.89" stroke="#d62728" stroke-width="5.3" fill="none"/>
<path d="M1585.08 479.82L1601.08 495.82M1585.08 495.82L1601.08 479.82" stroke="#d62728" stroke-width="5.3" fill="none"/>
<path d="M1644.76 401.7L1660.76 417.7M1644.76 417.7L1660.76 401.7" stroke="#d62728" stroke-width="5.3" fill="none"/>
<polygon points="1541,505.5 1537.41,516.56 1525.78,516.56 1535.19,523.39 1531.6,534.44 1541,527.61 1550.4,534.44 1546.81,523.39 1556.22,516.56 1544.59,516.56" fill="#d62728" stroke="#d62728" stroke-width="3.5" stroke-linejoin="round"/>
<line x1="1323.9" y1="417.5" x2="1336.5" y2="417.5" stroke="#000" stroke-width="3.1"/>
<line x1="1323.9" y1="512" x2="1336.5" y2="512" stroke="#000" stroke-width="3.1"/>
<line x1="1458.7" y1="560.2" x2="1458.7" y2="547.6" stroke="#000" stroke-width="3.1"/>
<line x1="1533.4" y1="560.2" x2="1533.4" y2="547.6" stroke="#000" stroke-width="3.1"/>
<line x1="1608" y1="560.2" x2="1608" y2="547.6" stroke="#000" stroke-width="3.1"/>
<rect x="1323.9" y="377.6" width="373.5" height="182.6" fill="none" stroke="#000" stroke-width="3.1"/>
<text x="1379.6" y="437.2" font-family='"Liberation Serif", serif' font-size="36.5" text-anchor="middle" >0</text>
<text x="1343.3" y="532.8" font-family='"Liberation Serif", serif' font-size="35.5" textLength="27.5" lengthAdjust="spacingAndGlyphs">−</text>
<text x="1388.8" y="529" font-family='"Liberation Serif", serif' font-size="36" text-anchor="end" >1</text>
<text x="1425.1" y="527.2" font-family='"Liberation Serif", serif' font-size="25" textLength="20.5" lengthAdjust="spacingAndGlyphs">−</text>
<text x="1449.6" y="525.6" font-family='"Liberation Serif", serif' font-size="26" font-style="italic" textLength="15.5" lengthAdjust="spacingAndGlyphs">π</text>
<line x1="1466.5" y1="541.6" x2="1479.5" y2="505.8" stroke="#000" stroke-width="1.7"/>
<text x="1478.5" y="533.2" font-family='"Liberation Serif", serif' font-size="24.5">2</text>
<text x="1587.2" y="525.6" font-family='"Liberation Serif", serif' font-size="26" font-style="italic" textLength="15.5" lengthAdjust="spacingAndGlyphs">π</text>
<line x1="1604.1" y1="541.6" x2="1617.1" y2="505.8" stroke="#000" stroke-width="1.7"/>
<text x="1616.1" y="533.2" font-family='"Liberation Serif", serif' font-size="24.5">2</text>
<rect x="1519.3" y="413.5" width="142.2" height="61.8" rx="7" ry="7" fill="#fff" fill-opacity="0.8" stroke="#ccc" stroke-opacity="0.8" stroke-width="3.4"/>
<line x1="1531.8" y1="441.0" x2="1553.8" y2="441.0" stroke="#000" stroke-width="4.1"/>
<text class="s" transform="translate(1563.4 453.5) scale(1 1.04)" font-family='"Liberation Sans", sans-serif' font-size="35" text-anchor="start" >exact</text>
<text class="s" transform="translate(1338.4 355.3) scale(1 1.04)" font-family='"Liberation Sans", sans-serif' font-size="42.6" text-anchor="start" >Energy rec.</text>
<text x="1577.1" y="354.9" font-family='"DejaVu Serif", "Liberation Serif", serif' font-size="41" font-style="italic">f</text>
<text x="1594.9" y="361.4" font-family='"DejaVu Serif", "Liberation Serif", serif' font-size="25.5" font-style="italic" font-weight="bold">θ</text>
<text x="1617.4" y="356.2" font-family='"Liberation Serif", serif' font-size="47.5" textLength="12.8" lengthAdjust="spacingAndGlyphs">(</text>
<text x="1630.9" y="356.3" font-family='"Liberation Serif", serif' font-size="44" font-style="italic" textLength="20.2" lengthAdjust="spacingAndGlyphs">θ</text>
<text x="1649.8" y="362.2" font-family='"Liberation Serif", serif' font-size="28">4</text>
<text x="1668.5" y="356.2" font-family='"Liberation Serif", serif' font-size="47.5" textLength="12.8" lengthAdjust="spacingAndGlyphs">)</text>
<rect x="1357.8" y="609.8" width="347.6" height="250" rx="7" ry="7" fill="#fff" fill-opacity="0.8" stroke="#ccc" stroke-opacity="0.8" stroke-width="3.4"/>
<line x1="1369.3" y1="636.2" x2="1446.7" y2="636.2" stroke="#d62728" stroke-width="5.4"/>
<circle cx="1408" cy="636.2" r="10.85" fill="#d62728"/>
<polygon points="1370.3,671.2 1395.5,671.2 1382.9,696.4" fill="#f3bebe" fill-opacity="0.8"/>
<polygon points="1395.2,671.2 1420.4,671.2 1407.8,696.4" fill="#e47373" fill-opacity="0.8"/>
<polygon points="1420.3,671.2 1445.5,671.2 1432.9,696.4" fill="#d62728" fill-opacity="0.8"/>
<line x1="1369.3" y1="731.4" x2="1446.7" y2="731.4" stroke="#ff7f0e" stroke-width="5.4"/>
<circle cx="1408" cy="731.4" r="10.85" fill="#ff7f0e"/>
<line x1="1369.3" y1="778.9" x2="1446.7" y2="778.9" stroke="#9467bd" stroke-width="5.4"/>
<circle cx="1408" cy="778.9" r="10.85" fill="#9467bd"/>
<rect x="1370.2" y="812.2" width="75.6" height="28.8" fill="#17becf" fill-opacity="0.3"/>
<text class="s" transform="translate(1473.6 649) scale(1 1.03)" font-family='"Liberation Sans", sans-serif' font-size="35.5" text-anchor="start" >Exc.Solve</text>
<text x="1473.6" y="703.1" font-size="45.6" font-family='"Liberation Serif", serif'>×</text>
<text x="1500.2" y="696.7" font-size="35.5" font-family='"Liberation Serif", serif'>1</text>
<text class="s" transform="translate(1522 696.7) scale(1 1.0)" font-family='"Liberation Sans", sans-serif' font-size="36" text-anchor="start" >-</text>
<text x="1533.4" y="703.1" font-size="45.6" font-family='"Liberation Serif", serif'>×</text>
<text x="1560" y="696.7" font-size="35.5" font-family='"Liberation Serif", serif' textLength="36.7" lengthAdjust="spacingAndGlyphs">10</text>
<text class="s" transform="translate(1605.9 696.7) scale(1 1.03)" font-family='"Liberation Sans", sans-serif' font-size="36.1" text-anchor="start" >shots</text>
<text class="s" transform="translate(1473.6 744.3) scale(1 1.05)" font-family='"Liberation Sans", sans-serif' font-size="35.5" text-anchor="start" >GD</text>
<text class="s" transform="translate(1473.6 791.6) scale(1 1.05)" font-family='"Liberation Sans", sans-serif' font-size="35.5" text-anchor="start" >COBYLA</text>
<text x="1474.1" y="844.5" font-size="47.4" font-family='"Liberation Serif", serif'>≤</text>
<text class="s" transform="translate(1510.6 839.8) scale(1 1.03)" font-family='"Liberation Sans", sans-serif' font-size="35.75" text-anchor="start" >chem. acc.</text>
</svg></body></html>
